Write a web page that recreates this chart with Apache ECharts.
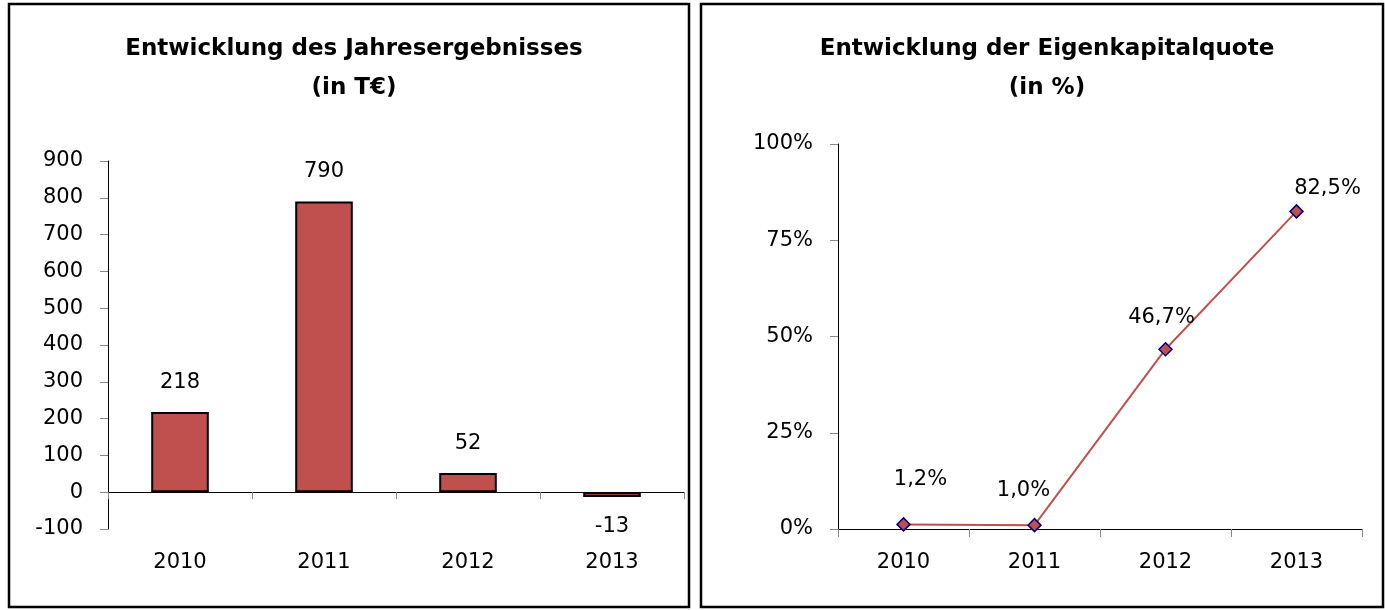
<!DOCTYPE html>
<html>
<head>
<meta charset="utf-8">
<script src="https://cdn.jsdelivr.net/npm/echarts@6/dist/echarts.min.js"></script>
<style>
html,body{margin:0;padding:0;background:#fff;}
#c{width:1385px;height:610px;}
</style>
</head>
<body>
<div id="c"></div>
<script>
// Data
const years = ['2010', '2011', '2012', '2013'];
const jahresergebnis = [218, 790, 52, -13];           // T€
const eigenkapitalquote = [1.2, 1.0, 46.7, 82.5];    // %
const leftTicks = { min: -100, max: 900, interval: 100 };
const rightTicks = { min: 0, max: 100, interval: 25 };

const FONT = 'DejaVu Sans';
const RED = '#C0504D';
const fmtDe = v => v.toFixed(1).replace('.', ',') + '%';

// label offsets for the line points (style only)
const lineLabelOffsets = [[17, -7], [-11, 3], [-4, 6], [31, 15]];

const chart = echarts.init(document.getElementById('c'));

const axisLabelStyle = { fontFamily: FONT, fontSize: 21, color: '#000' };

chart.setOption({
  animation: false,
  textStyle: { fontFamily: FONT },
  title: [
    { text: 'Entwicklung des Jahresergebnisses\n(in T€)', left: 349, top: 25, textAlign: 'center',
      textStyle: { fontFamily: FONT, fontSize: 23, fontWeight: 'bold', color: '#000', lineHeight: 39 } },
    { text: 'Entwicklung der Eigenkapitalquote\n(in %)', left: 1042, top: 25, textAlign: 'center',
      textStyle: { fontFamily: FONT, fontSize: 23, fontWeight: 'bold', color: '#000', lineHeight: 39 } }
  ],
  graphic: [
    { type: 'rect', shape: { x: 9, y: 4, width: 680, height: 603 }, style: { fill: 'none', stroke: '#000', lineWidth: 2.5 }, silent: true },
    { type: 'rect', shape: { x: 701, y: 4, width: 682, height: 603 }, style: { fill: 'none', stroke: '#000', lineWidth: 2.5 }, silent: true }
  ],
  grid: [
    { left: 108, top: 161, width: 576, height: 368 },
    { left: 838, top: 144, width: 524, height: 385 }
  ],
  xAxis: [
    { type: 'category', data: years, gridIndex: 0, position: 'bottom',
      axisLine: { show: false, onZero: false }, axisTick: { show: false },
      axisLabel: Object.assign({ margin: 23 }, axisLabelStyle) },
    { type: 'category', data: years, gridIndex: 0, position: 'bottom',
      axisLine: { show: true, onZero: true, lineStyle: { color: '#000', width: 1 } },
      axisTick: { show: true, length: 7, lineStyle: { color: '#888' } },
      axisLabel: { show: false } },
    { type: 'category', data: years, gridIndex: 1, position: 'bottom',
      axisLine: { show: true, lineStyle: { color: '#000', width: 1 } },
      axisTick: { show: true, length: 8, lineStyle: { color: '#888' } },
      axisLabel: Object.assign({ margin: 23 }, axisLabelStyle) }
  ],
  yAxis: [
    { type: 'value', gridIndex: 0, min: leftTicks.min, max: leftTicks.max, interval: leftTicks.interval,
      axisLine: { show: true, lineStyle: { color: '#000', width: 1 } },
      axisTick: { show: true, length: 8, lineStyle: { color: '#888' } },
      splitLine: { show: false },
      axisLabel: Object.assign({ margin: 25 }, axisLabelStyle) },
    { type: 'value', gridIndex: 1, min: rightTicks.min, max: rightTicks.max, interval: rightTicks.interval,
      axisLine: { show: true, lineStyle: { color: '#000', width: 1 } },
      axisTick: { show: true, length: 8, lineStyle: { color: '#888' } },
      splitLine: { show: false },
      axisLabel: Object.assign({ margin: 25, formatter: '{value}%' }, axisLabelStyle) }
  ],
  series: [
    { type: 'bar', xAxisIndex: 0, yAxisIndex: 0, barWidth: '40%',
      itemStyle: { color: RED, borderColor: '#000', borderWidth: 2 },
      data: jahresergebnis.map(v => ({ value: v, label: { position: v < 0 ? 'bottom' : 'top' } })),
      label: { show: true, distance: 19, fontFamily: FONT, fontSize: 21, color: '#000' } },
    { type: 'line', xAxisIndex: 2, yAxisIndex: 1,
      lineStyle: { color: RED, width: 2 },
      symbol: 'diamond', symbolSize: 13,
      itemStyle: { color: RED, borderColor: '#00007F', borderWidth: 1.5 },
      data: eigenkapitalquote.map((v, i) => ({ value: v, label: { offset: lineLabelOffsets[i] } })),
      label: { show: true, position: 'top', distance: 20, fontFamily: FONT, fontSize: 21, color: '#000',
        formatter: p => fmtDe(p.value) } }
  ]
});
</script>
</body>
</html>
